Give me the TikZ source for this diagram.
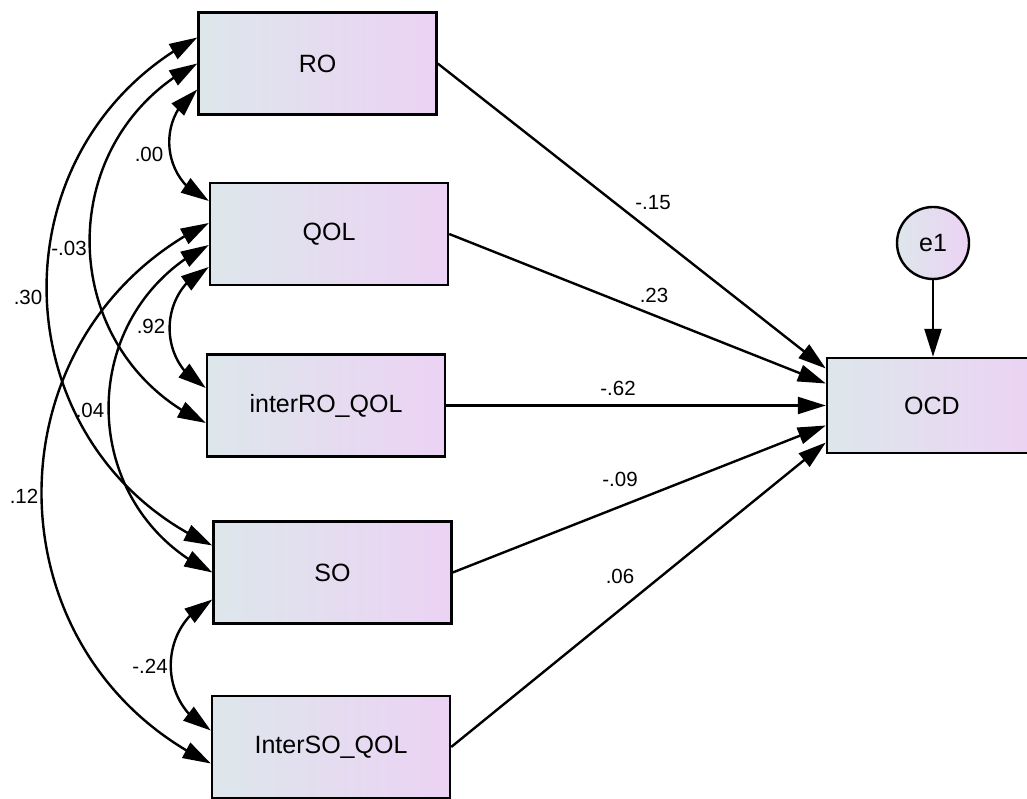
\documentclass[tikz,border=0pt]{standalone}
\usepackage{fontspec}
\setmainfont{Liberation Sans}
\usetikzlibrary{arrows.meta,bending}

\definecolor{shadeL}{RGB}{221,231,235}
\definecolor{shadeR}{RGB}{236,210,244}

\begin{document}
\begin{tikzpicture}[x=1pt,y=1pt,
  tip/.tip={Triangle[length=28pt,width=17pt]},
  var/.style={draw=black, line width=2.4pt, left color=shadeL, right color=shadeR,
    minimum width=238pt, minimum height=102pt, inner sep=0pt,
    font=\fontsize{25}{29}\selectfont},
  err/.style={circle, draw=black, line width=2.4pt, left color=shadeL, right color=shadeR,
    minimum size=72pt, inner sep=0pt, font=\fontsize{25}{29}\selectfont},
  path/.style={line width=2.4pt, -tip},
  cov/.style={line width=2.4pt, tip-tip, bend right=64, looseness=1.18},
  coef/.style={inner sep=0pt, font=\fontsize{20.5}{24}\selectfont}
]
\useasboundingbox (0,0) rectangle (1027,798);
\begin{scope}
\clip (0,0) rectangle (1027,798);

% observed variables
\node[var] (RO)      at (317.5,734.5) {RO};
\node[var] (QOL)     at (329,564)     {QOL};
\node[var] (interRO) at (326,392.5)   {interRO\_QOL};
\node[var] (SO)      at (332.5,225.5) {SO};
\node[var] (interSO) at (331,51)      {InterSO\_QOL};
\node[var, minimum width=210pt, minimum height=95pt] (OCD) at (932,392.5) {OCD};
\node[err] (e1) at (933,555) {e1};

% regression paths
\draw[path] (RO.east)      -- ([yshift=37pt]OCD.west);
\draw[path] (QOL.east)     -- ([yshift=22pt]OCD.west);
\draw[path] (interRO.east) -- (OCD.west);
\draw[path] (SO.east)      -- ([yshift=-20pt]OCD.west);
\draw[path] (interSO.east) -- ([yshift=-37pt]OCD.west);
\draw[path] (e1.south)     -- (e1.south |- OCD.north);

% covariances between the predictors
\draw[cov, bend right=62, looseness=1.16] ([yshift=-26pt]RO.west) to ([yshift=33pt]QOL.west);
\draw[cov] ([yshift=0pt]RO.west)   to ([yshift=-17.5pt]interRO.west);
\draw[cov] ([yshift=26pt]RO.west)  to ([yshift=27pt]SO.west);
\draw[cov] ([yshift=-33pt]QOL.west) to ([yshift=17.5pt]interRO.west);
\draw[cov] ([yshift=-11pt]QOL.west) to ([yshift=0pt]SO.west);
\draw[cov] ([yshift=11pt]QOL.west)  to ([yshift=-16.5pt]interSO.west);
\draw[cov] ([yshift=-27pt]SO.west)  to ([yshift=16.5pt]interSO.west);

% estimates
\node[coef] (c1)  at (149,644) {.00};
\node[coef] (c2)  at (69,550)  {-.03};
\node[coef] (c3)  at (28,501)  {.30};
\node[coef] (c4)  at (151,472) {.92};
\node[coef] (c5)  at (90,388)  {.04};
\node[coef] (c6)  at (24,302)  {.12};
\node[coef] (c7)  at (150,132) {-.24};
\node[coef] (p1)  at (653,595) {-.15};
\node[coef] (p2)  at (654,503) {.23};
\node[coef] (p3)  at (618,410) {-.62};
\node[coef] (p4)  at (620,319) {-.09};
\node[coef] (p5)  at (620,222) {.06};
\end{scope}
\end{tikzpicture}
\end{document}
